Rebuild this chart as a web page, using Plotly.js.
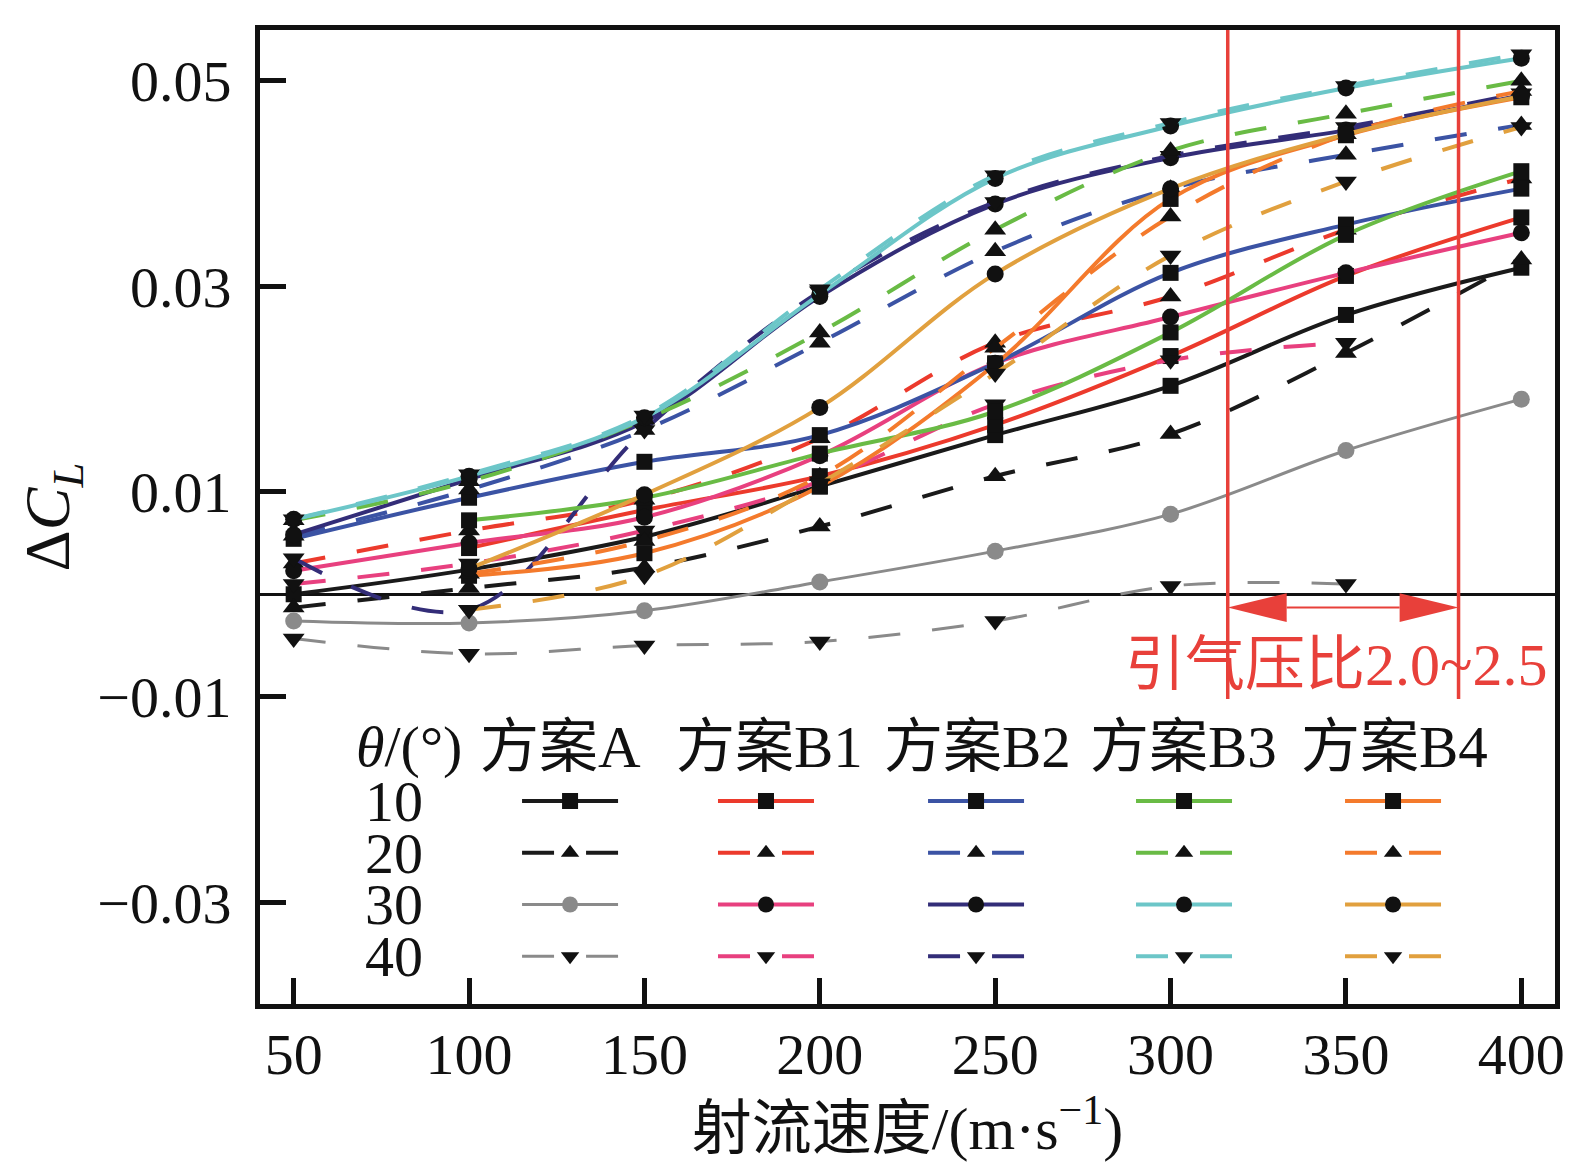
<!DOCTYPE html>
<html>
<head>
<meta charset="utf-8">
<script src="https://cdn.plot.ly/plotly-3.0.1.min.js"></script>
<style>
body { margin: 0; background: #fff; }
#chart { width: 1595px; height: 1166px; }
</style>
</head>
<body>
<div id="chart"></div>
<script>
var speeds = [50, 100, 150, 200, 250, 300, 350, 400];

// delta C_L, null = no point for that case
var schemeA_10 = [0.0000, 0.0024, 0.0056, 0.0105, 0.0155, 0.0203, 0.0272, 0.0318];
var schemeA_20 = [-0.0013, 0.0006, 0.0026, 0.0066, 0.0115, 0.0156, 0.0235, 0.0326];
var schemeA_30 = [-0.0026, -0.0028, -0.0016, 0.0012, 0.0042, 0.0078, 0.0140, 0.0190];
var schemeA_40 = [-0.0043, -0.0058, -0.0050, -0.0046, -0.0026, 0.0008, 0.0010, null];

var schemeB1_10 = [null, 0.0045, 0.0082, 0.0115, 0.0165, 0.0232, 0.0310, 0.0367];
var schemeB1_20 = [0.0030, 0.0062, 0.0092, 0.0152, 0.0245, 0.0290, 0.0355, 0.0405];
var schemeB1_30 = [0.0023, 0.0050, 0.0075, 0.0135, 0.0225, 0.0270, 0.0313, 0.0352];
var schemeB1_40 = [0.0010, 0.0030, 0.0062, 0.0110, 0.0185, 0.0228, 0.0245, null];

var schemeB2_10 = [0.0054, 0.0094, 0.0129, 0.0155, 0.0225, 0.0313, 0.0360, 0.0395];
var schemeB2_20 = [0.0057, 0.0102, 0.0160, 0.0245, 0.0334, 0.0395, 0.0428, 0.0457];
var schemeB2_30 = [0.0058, 0.0112, 0.0168, 0.0290, 0.0380, 0.0425, 0.0452, 0.0486];
var schemeB2_40 = [0.0035, -0.0015, 0.0160, 0.0295, 0.0382, 0.0427, 0.0455, 0.0488];

var schemeB3_10 = [null, 0.0072, 0.0094, 0.0137, 0.0178, 0.0255, 0.0350, 0.0412];
var schemeB3_20 = [0.0072, 0.0110, 0.0170, 0.0255, 0.0355, 0.0432, 0.0468, 0.0500];
var schemeB3_30 = [0.0073, 0.0115, 0.0172, 0.0292, 0.0405, 0.0456, 0.0493, 0.0522];
var schemeB3_40 = [0.0073, 0.0117, 0.0174, 0.0297, 0.0408, 0.0459, 0.0495, 0.0526];

var schemeB4_10 = [null, 0.0018, 0.0040, 0.0105, 0.0224, 0.0385, 0.0447, 0.0484];
var schemeB4_20 = [null, 0.0020, 0.0052, 0.0115, 0.0240, 0.0368, 0.0448, 0.0490];
var schemeB4_30 = [null, 0.0025, 0.0097, 0.0182, 0.0312, 0.0395, 0.0448, 0.0485];
var schemeB4_40 = [null, -0.0015, 0.0018, 0.0108, 0.0215, 0.0330, 0.0402, 0.0455];

var schemeNames = ['方案A', '方案B1', '方案B2', '方案B3', '方案B4'];
var angleLabels = ['10', '20', '30', '40'];
var xTicks = [50, 100, 150, 200, 250, 300, 350, 400];
var yTicks = [-0.03, -0.01, 0.01, 0.03, 0.05];
var yTickText = ['\u22120.03', '\u22120.01', '0.01', '0.03', '0.05'];

// bleed pressure ratio band 2.0~2.5
var bandStart = 316.3;
var bandEnd = 382.1;
var bandLabel = '引气压比2.0~2.5';

var series = [
    [schemeA_10, schemeA_20, schemeA_30, schemeA_40],
    [schemeB1_10, schemeB1_20, schemeB1_30, schemeB1_40],
    [schemeB2_10, schemeB2_20, schemeB2_30, schemeB2_40],
    [schemeB3_10, schemeB3_20, schemeB3_30, schemeB3_40],
    [schemeB4_10, schemeB4_20, schemeB4_30, schemeB4_40]
];
var colors = [
    ['#1a1a1a', '#1a1a1a', '#8a8a8a', '#8a8a8a'],
    ['#ec3a2c', '#ec3a2c', '#e8407f', '#e8407f'],
    ['#3b53a4', '#3b53a4', '#332d78', '#332d78'],
    ['#69bb45', '#69bb45', '#6cc6c8', '#6cc6c8'],
    ['#f47a2c', '#f47a2c', '#e1a03e', '#e1a03e']
];
var dashes = ['solid', '32px,32px', 'solid', '32px,32px'];
var symbols = ['square', 'triangle-up', 'circle', 'triangle-down'];
var symbolSizes = [16, 19, 17, 19];
var legendIds = ['legend', 'legend2', 'legend3', 'legend4', 'legend5'];

var data = [];
for (var s = 0; s < series.length; s++) {
    for (var a = 0; a < 4; a++) {
        var markerColor = (s == 0 && a == 2) ? '#8a8a8a' : '#111';
        data.push({
            x: speeds,
            y: series[s][a],
            type: 'scatter',
            mode: 'lines+markers',
            name: ' ',
            legend: legendIds[s],
            line: {color: colors[s][a], width: (s == 0 && a >= 2) ? 3 : 4,
                   dash: dashes[a], shape: 'spline', smoothing: 1},
            marker: {symbol: symbols[a], size: symbolSizes[a], color: markerColor},
            hoverinfo: 'skip'
        });
    }
}

var red = '#e8403a';
var font = 'Liberation Serif, Noto Sans CJK SC, serif';

var layout = {
    width: 1595,
    height: 1166,
    margin: {l: 260, r: 40, t: 30, b: 162},
    paper_bgcolor: '#fff',
    plot_bgcolor: '#fff',
    font: {family: font, size: 58, color: '#111'},
    showlegend: true,
    xaxis: {
        range: [40.4, 409.6],
        tickvals: xTicks,
        ticks: 'inside', ticklen: 26, tickwidth: 5, tickcolor: '#111',
        showline: true, linewidth: 5, linecolor: '#111', mirror: true,
        showgrid: false, zeroline: false,
        ticklabelstandoff: -5,
        tickfont: {size: 58},
        title: {text: '射流速度/(m·s<sup>−1</sup>)', standoff: 13, font: {size: 60}}
    },
    yaxis: {
        range: [-0.0399, 0.05495],
        tickvals: yTicks, ticktext: yTickText,
        ticks: 'inside', ticklen: 26, tickwidth: 5, tickcolor: '#111',
        showline: true, linewidth: 5, linecolor: '#111', mirror: true,
        showgrid: false,
        zeroline: true, zerolinecolor: '#111', zerolinewidth: 3,
        ticklabelstandoff: 12,
        tickfont: {size: 58},
        title: {text: 'Δ<i>C</i><sub><i>L</i></sub>', standoff: 8, font: {size: 64}}
    },
    shapes: [],
    annotations: []
};

// one legend per scheme, each a column of four angle samples
var legendLeft = [0.1985, 0.3498, 0.5120, 0.6726, 0.8340];
for (var i = 0; i < legendIds.length; i++) {
    layout[legendIds[i]] = {
        x: legendLeft[i], xanchor: 'left',
        y: 0.2401, yanchor: 'top',
        orientation: 'v',
        bgcolor: 'rgba(0,0,0,0)',
        borderwidth: 0,
        itemwidth: 96,
        tracegroupgap: 0,
        font: {family: font, size: 37.5},
        itemclick: false, itemdoubleclick: false
    };
}

// header row and angle labels
function label(x, y, text, size, color) {
    return {
        xref: 'paper', yref: 'paper', x: x, y: y,
        xanchor: 'center', yanchor: 'middle',
        text: text, showarrow: false,
        font: {family: font, size: size, color: color || '#111'}
    };
}
var headerX = [0.2317, 0.3931, 0.5544, 0.7135, 0.8757];
layout.annotations.push(label(0.1147, 0.2639, '<i>θ</i>/(°)', 58));
for (var i = 0; i < schemeNames.length; i++) {
    layout.annotations.push(label(headerX[i], 0.2639, schemeNames[i], 59));
}
var rowY = [0.2084, 0.1543, 0.1022, 0.0490];
for (var i = 0; i < angleLabels.length; i++) {
    layout.annotations.push(label(0.1035, rowY[i], angleLabels[i], 58));
}

// band lines, double arrow and label
var bandTop = 0.05495, bandBottom = -0.0102, arrowY = -0.0013;
var headLen = 16.8, headHalf = 0.0014;
[bandStart, bandEnd].forEach(function(xv) {
    layout.shapes.push({type: 'line', xref: 'x', yref: 'y', x0: xv, x1: xv,
        y0: bandBottom, y1: bandTop, line: {color: red, width: 3.5}});
});
layout.shapes.push({type: 'line', xref: 'x', yref: 'y',
    x0: bandStart + headLen, x1: bandEnd - headLen, y0: arrowY, y1: arrowY,
    line: {color: red, width: 2}});
layout.shapes.push({type: 'path', xref: 'x', yref: 'y', fillcolor: red, line: {width: 0},
    path: 'M' + bandStart + ',' + arrowY + ' L' + (bandStart + headLen) + ',' + (arrowY + headHalf) +
          ' L' + (bandStart + headLen) + ',' + (arrowY - headHalf) + ' Z'});
layout.shapes.push({type: 'path', xref: 'x', yref: 'y', fillcolor: red, line: {width: 0},
    path: 'M' + bandEnd + ',' + arrowY + ' L' + (bandEnd - headLen) + ',' + (arrowY + headHalf) +
          ' L' + (bandEnd - headLen) + ',' + (arrowY - headHalf) + ' Z'});
layout.annotations.push({
    xref: 'x', yref: 'y', x: 347.2, y: -0.0069,
    xanchor: 'center', yanchor: 'middle',
    text: bandLabel, showarrow: false,
    font: {family: font, size: 60, color: red}
});

Plotly.newPlot('chart', data, layout, {displayModeBar: false, staticPlot: true});
</script>
</body>
</html>
